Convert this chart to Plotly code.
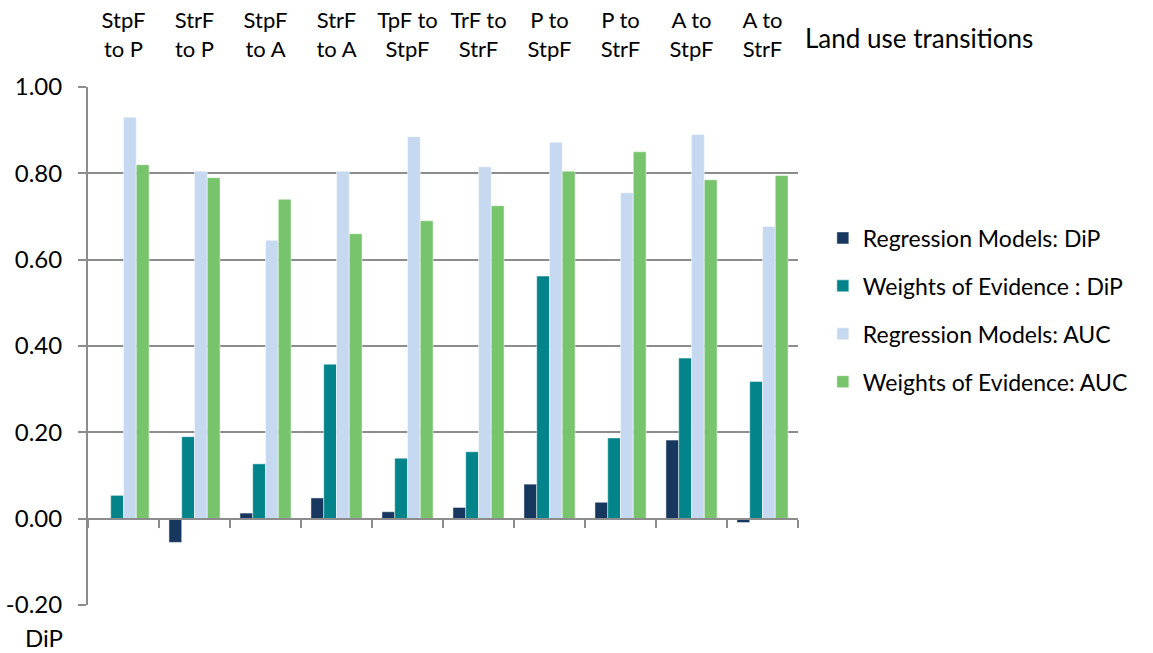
import plotly.graph_objects as go

categories = ["StpF<br>to P", "StrF<br>to P", "StpF<br>to A", "StrF<br>to A", "TpF to<br>StpF",
              "TrF to<br>StrF", "P to<br>StpF", "P to<br>StrF", "A to<br>StpF", "A to<br>StrF"]
rm_dip = [-0.003, -0.055, 0.013, 0.048, 0.016, 0.026, 0.080, 0.038, 0.182, -0.009]
woe_dip = [0.054, 0.190, 0.127, 0.358, 0.140, 0.155, 0.562, 0.187, 0.372, 0.318]
rm_auc = [0.930, 0.805, 0.645, 0.805, 0.885, 0.815, 0.872, 0.755, 0.890, 0.677]
woe_auc = [0.820, 0.790, 0.740, 0.660, 0.690, 0.725, 0.805, 0.850, 0.785, 0.795]
series_names = ["Regression Models: DiP", "Weights of Evidence : DiP",
                "Regression Models: AUC", "Weights of Evidence: AUC"]
series_colors = ["#17375E", "#03838A", "#C6D9F1", "#77C46C"]
y_ticks = [-0.2, 0.0, 0.2, 0.4, 0.6, 0.8, 1.0]
y_tick_text = [f"{v:.2f}" for v in y_ticks]
boundaries = [i - 0.5 for i in range(len(categories) + 1)]

FONT = "Lato, 'Noto Sans', sans-serif"
GRID = "#8C8C8C"

fig = go.Figure()
for name, vals, col in zip(series_names, [rm_dip, woe_dip, rm_auc, woe_auc], series_colors):
    fig.add_trace(go.Bar(
        x=list(range(len(categories))), y=vals, name=name, legendgroup=name,
        marker=dict(color=col, line=dict(color="rgba(255,255,255,0.6)", width=0.8)),
    ))

# helper trace to render the category-boundary axis at y = 0
fig.add_trace(go.Scatter(x=[boundaries[0], boundaries[-1]], y=[0, 0], xaxis="x2", mode="lines",
                         line=dict(width=0), showlegend=False, hoverinfo="skip"))

y_min, y_max = -0.2, 1.0
fig.update_layout(
    width=1153, height=653,
    margin=dict(l=88, r=355, t=87, b=48),
    plot_bgcolor="white", paper_bgcolor="white",
    font=dict(family=FONT, size=22, color="#000000"),
    barmode="group", bargap=0.28, bargroupgap=0,
    xaxis=dict(
        side="top", range=[boundaries[0], boundaries[-1]],
        tickmode="array", tickvals=list(range(len(categories))), ticktext=categories,
        showgrid=False, showline=False, zeroline=False, ticks="",
        ticklabelstandoff=25, tickfont=dict(size=22), automargin=False,
    ),
    xaxis2=dict(
        overlaying="x", anchor="free", position=(0 - y_min) / (y_max - y_min),
        range=[boundaries[0], boundaries[-1]], tickmode="array", tickvals=boundaries,
        showticklabels=False, ticks="outside", ticklen=8, tickwidth=2, tickcolor=GRID,
        showline=True, linecolor=GRID, linewidth=2, showgrid=False, zeroline=False,
        automargin=False,
    ),
    yaxis=dict(
        range=[y_min, y_max], tickmode="array", tickvals=y_ticks, ticktext=y_tick_text,
        showgrid=True, gridcolor=GRID, gridwidth=2,
        zeroline=False, showline=True, linecolor=GRID, linewidth=2,
        ticks="outside", ticklen=8, tickwidth=2, tickcolor=GRID,
        tickfont=dict(size=24), automargin=False, ticklabelstandoff=11,
    ),
    legend=dict(x=1.035, y=0.750, xanchor="left", yanchor="top",
                font=dict(size=23), tracegroupgap=15, traceorder="grouped",
                itemwidth=30, borderwidth=0),
    showlegend=True,
    annotations=[
        dict(text="Land use transitions", xref="paper", yref="paper", x=1.007, y=1.0946,
             xanchor="left", yanchor="middle", showarrow=False, font=dict(size=26)),
        dict(text="DiP", xref="paper", yref="paper", x=-0.062, y=-0.062,
             xanchor="center", yanchor="middle", showarrow=False, font=dict(size=24)),
    ],
)

fig.write_html("out.html", config={"displayModeBar": False},
               post_script="document.body.style.margin='0';document.body.style.overflow='hidden';")
